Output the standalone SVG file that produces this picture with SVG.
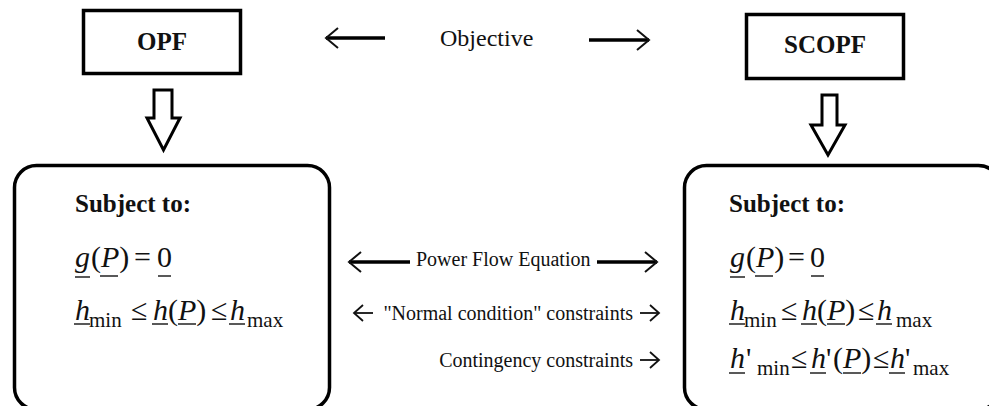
<svg xmlns="http://www.w3.org/2000/svg" width="989" height="406" viewBox="0 0 989 406">
<style>
  .box{fill:#fff;stroke:#000;stroke-width:3.5}
  .blk{fill:#fff;stroke:#000;stroke-width:3;stroke-linejoin:miter}
  text{font-family:'Liberation Serif','Times New Roman',Times,serif;fill:#111}
  .title{font-weight:bold;font-size:25px}
  .lbl{font-size:20px}
  .obj{font-size:24px}
  .eq{font-size:30px}
  .it{font-style:italic}
  .sub{font-size:21px}
  .ul{stroke:#222;stroke-width:1.5}
  .shaft{stroke:#000;stroke-width:3.5;fill:none}
  .thin{stroke:#111;stroke-width:1.8;fill:none}
</style>
<defs>
  <marker id="chev" viewBox="-14 -12 16 24" refX="0" refY="0" markerWidth="16" markerHeight="24" orient="auto-start-reverse" markerUnits="userSpaceOnUse">
    <path d="M-12,-10 L0,0 L-12,10" fill="none" stroke="#111" stroke-width="2"/>
  </marker>
  <marker id="chevS" viewBox="-11 -10 13 20" refX="0" refY="0" markerWidth="13" markerHeight="20" orient="auto-start-reverse" markerUnits="userSpaceOnUse">
    <path d="M-9,-8 L0,0 L-9,8" fill="none" stroke="#111" stroke-width="1.8"/>
  </marker>
</defs>
<rect width="989" height="406" fill="#fff"/>

<g id="opf">
  <rect class="box" x="83.5" y="10.5" width="157" height="63"/>
  <text class="title" x="162" y="50" text-anchor="middle">OPF</text>
</g>

<g id="scopf">
  <rect class="box" x="746.5" y="14.5" width="157" height="64"/>
  <text class="title" x="825" y="53" text-anchor="middle">SCOPF</text>
</g>

<g id="objective">
  <text class="obj" x="440" y="46">Objective</text>
</g>

<g id="opf-constraints">
  <rect class="box" x="14.5" y="165.5" width="315" height="244" rx="22" ry="22"/>
  <text class="title" x="75" y="212">Subject to:</text>
  <text class="eq" y="267"><tspan class="it" x="75">g</tspan><tspan x="91">(<tspan class="it">P</tspan>)</tspan><tspan x="134">=</tspan><tspan x="157">0</tspan></text>
  <text class="eq" y="320"><tspan class="it" x="75">h</tspan><tspan class="sub" x="89" dy="7">min</tspan><tspan x="131" dy="-7">≤</tspan><tspan class="it" x="153">h</tspan><tspan x="168">(<tspan class="it">P</tspan>)</tspan><tspan x="211">≤</tspan><tspan class="it" x="230">h</tspan><tspan class="sub" x="247" dy="7">max</tspan></text>
  <line class="ul" x1="75" y1="277" x2="90" y2="277"/>
  <line class="ul" x1="100" y1="276" x2="118" y2="276"/>
  <line class="ul" x1="158" y1="276" x2="171" y2="276"/>
  <line class="ul" x1="74" y1="324" x2="90" y2="324"/>
  <line class="ul" x1="152" y1="324" x2="168" y2="324"/>
  <line class="ul" x1="178" y1="324" x2="196" y2="324"/>
  <line class="ul" x1="229" y1="324" x2="245" y2="324"/>
</g>

<g id="scopf-constraints">
  <rect class="box" x="684.5" y="165.5" width="316" height="244" rx="22" ry="22"/>
  <text class="title" x="729" y="212">Subject to:</text>
  <text class="eq" y="267"><tspan class="it" x="730">g</tspan><tspan x="746">(<tspan class="it">P</tspan>)</tspan><tspan x="788">=</tspan><tspan x="810">0</tspan></text>
  <text class="eq" y="320"><tspan class="it" x="730">h</tspan><tspan class="sub" x="744" dy="7">min</tspan><tspan x="781" dy="-7">≤</tspan><tspan class="it" x="802">h</tspan><tspan x="817">(<tspan class="it">P</tspan>)</tspan><tspan x="858">≤</tspan><tspan class="it" x="877">h</tspan><tspan class="sub" x="896" dy="7">max</tspan></text>
  <text class="eq" y="368"><tspan class="it" x="730">h</tspan><tspan x="746">'</tspan><tspan class="sub" x="757" dy="7">min</tspan><tspan x="791" dy="-7">≤</tspan><tspan class="it" x="811">h</tspan><tspan x="826">'</tspan><tspan x="833">(<tspan class="it">P</tspan>)</tspan><tspan x="873">≤</tspan><tspan class="it" x="890">h</tspan><tspan x="905">'</tspan><tspan class="sub" x="913" dy="7">max</tspan></text>
  <line class="ul" x1="730" y1="277" x2="745" y2="277"/>
  <line class="ul" x1="755" y1="276" x2="773" y2="276"/>
  <line class="ul" x1="811" y1="276" x2="824" y2="276"/>
  <line class="ul" x1="729" y1="324" x2="745" y2="324"/>
  <line class="ul" x1="801" y1="324" x2="817" y2="324"/>
  <line class="ul" x1="827" y1="324" x2="845" y2="324"/>
  <line class="ul" x1="876" y1="324" x2="892" y2="324"/>
  <line class="ul" x1="729" y1="373" x2="745" y2="373"/>
  <line class="ul" x1="810" y1="373" x2="826" y2="373"/>
  <line class="ul" x1="843" y1="373" x2="861" y2="373"/>
  <line class="ul" x1="889" y1="373" x2="905" y2="373"/>
</g>

<g id="row-labels">
  <text class="lbl" x="416" y="266">Power Flow Equation</text>
  <text class="lbl" x="633" y="320" text-anchor="end">"Normal condition" constraints</text>
  <text class="lbl" x="633" y="367" text-anchor="end">Contingency constraints</text>
</g>

<g id="connectors">
  <path class="blk" d="M154,90 H172 V118 H180 L163.5,150 L147,118 H154 Z"/>
  <path class="blk" d="M822,95 H837 V125 H845 L828,155 L811,125 H822 Z"/>
  <line class="shaft" x1="326" y1="38" x2="385" y2="38" marker-start="url(#chev)"/>
  <line class="shaft" x1="589" y1="40" x2="649" y2="40" marker-end="url(#chev)"/>
  <line class="shaft" x1="349" y1="262" x2="410" y2="262" marker-start="url(#chev)"/>
  <line class="shaft" x1="597" y1="262" x2="657" y2="262" marker-end="url(#chev)"/>
  <line class="thin" x1="354" y1="313" x2="373" y2="313" marker-start="url(#chevS)"/>
  <line class="thin" x1="640" y1="313" x2="659" y2="313" marker-end="url(#chevS)"/>
  <line class="thin" x1="640" y1="360" x2="659" y2="360" marker-end="url(#chevS)"/>
</g>
</svg>
